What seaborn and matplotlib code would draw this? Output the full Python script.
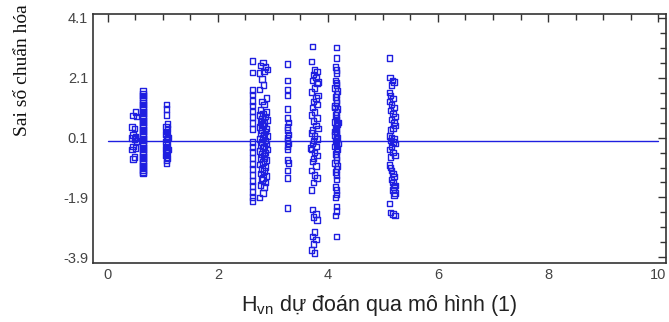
import numpy as np
import pandas as pd
import matplotlib
matplotlib.use("Agg")
import matplotlib.pyplot as plt
import seaborn as sns
from matplotlib.ticker import MultipleLocator, FixedLocator

# ---- data ----
xA = [0.50, 0.46, 0.52, 0.44, 0.48, 0.46, 0.50, 0.44, 0.48, 0.52, 0.46, 0.50, 0.44, 0.48, 0.46, 0.50]
yA = [0.95, 0.83, 0.80, 0.45, 0.40, 0.18, 0.12, 0.08, 0.05, -0.02, -0.20, -0.25, -0.30, -0.55, -0.62, 0.10]

yB = [1.65, 1.58, 1.50, 1.43, 1.35, 1.27, 1.20, 1.12, 1.05, 0.97, 0.90, 0.82, 0.75, 0.67,
      0.60, 0.52, 0.45, 0.37, 0.30, 0.22, 0.15, 0.07, 0.00, -0.08, -0.15, -0.23, -0.30,
      -0.38, -0.45, -0.53, -0.60, -0.68, -0.75, -0.83, -0.90, -0.98, -1.05, -1.10]
xB = [0.64] * len(yB)

yC = [1.20, 1.05, 0.85, 0.55, 0.45, 0.38, 0.30, 0.22, 0.15, 0.05, -0.05, -0.12, -0.20,
      -0.28, -0.35, -0.42, -0.50, -0.58, -0.65, -0.75, 0.10, -0.30]
xC = [1.07, 1.07, 1.07, 1.08, 1.06, 1.08, 1.07, 1.06, 1.08, 1.07, 1.06, 1.08, 1.07,
      1.06, 1.08, 1.07, 1.06, 1.08, 1.07, 1.07, 1.09, 1.09]

yD = [2.65, 2.27, 1.69, 1.53, 1.32, 1.16, 0.96, 0.79, 0.59, 0.39, -0.05, -0.21, -0.38,
      -0.58, -0.78, -0.95, -1.15, -1.35, -1.52, -1.72, -1.89, -2.02]
xD = [2.63] * len(yD)

xE = [2.82, 2.78, 2.86, 2.90, 2.84, 2.76, 2.80, 2.83, 2.76, 2.88, 2.80, 2.84, 2.78, 2.88,
      2.82, 2.76, 2.86, 2.80, 2.90, 2.78, 2.84, 2.82, 2.76, 2.88, 2.80, 2.86, 2.78, 2.84,
      2.90, 2.82, 2.76, 2.86, 2.80, 2.88, 2.78, 2.84, 2.82, 2.90, 2.76, 2.86, 2.80, 2.84,
      2.78, 2.88, 2.82, 2.76, 2.86, 2.80, 2.84, 2.78, 2.88, 2.82, 2.80, 2.86, 2.78, 2.84,
      2.82, 2.76, 2.80, 2.85]
yE = [2.60, 2.50, 2.45, 2.38, 2.30, 2.25, 2.05, 1.85, 1.70, 1.42, 1.30, 1.20, 1.02, 0.95,
      0.90, 0.85, 0.80, 0.72, 0.68, 0.62, 0.58, 0.50, 0.45, 0.40, 0.35, 0.30, 0.25, 0.20,
      0.15, 0.10, 0.05, 0.00, -0.05, -0.10, -0.15, -0.20, -0.25, -0.30, -0.35, -0.40,
      -0.45, -0.52, -0.58, -0.65, -0.72, -0.80, -0.88, -0.95, -1.02, -1.10, -1.18, -1.25,
      -1.32, -1.40, -1.48, -1.55, -1.75, -1.90, 0.55, -0.60]

yF = [2.55, 2.00, 1.70, 1.50, 1.05, 0.75, 0.60, 0.45, 0.35, 0.20, 0.10, 0.00, -0.10,
      -0.20, -0.30, -0.65, -0.75, -1.00, -1.25, -2.25]
xF = [3.27, 3.27, 3.26, 3.27, 3.27, 3.26, 3.28, 3.27, 3.26, 3.28, 3.27, 3.26, 3.28,
      3.27, 3.26, 3.27, 3.28, 3.26, 3.27, 3.27]

yG = [3.13, 2.63, 2.36, 2.30, 2.20, 2.10, 2.00, 1.90, 1.75, 1.62, 1.42, 1.30, 1.20, 1.10,
      0.95, 0.85, 0.75, 0.65, 0.50, 0.35, 0.25, 0.15, 0.05, 0.00, -0.10, -0.20, -0.30,
      -0.40, -0.50, -0.60, -0.70, -0.85, -1.00, -1.15, -1.25, -1.40, -1.65, -2.30, -2.45,
      -2.55, -2.65, -3.05, -3.20, -3.30, -3.45, -3.65, -3.75, 1.50, 0.40, -0.25, 1.95]
xG = [3.72, 3.70, 3.76, 3.80, 3.74, 3.78, 3.72, 3.80, 3.76, 3.70, 3.78, 3.74, 3.80, 3.72,
      3.76, 3.70, 3.80, 3.74, 3.78, 3.72, 3.70, 3.76, 3.80, 3.74, 3.72, 3.78, 3.70, 3.76,
      3.80, 3.74, 3.72, 3.78, 3.70, 3.76, 3.80, 3.74, 3.70, 3.72, 3.78, 3.74, 3.80, 3.76,
      3.72, 3.78, 3.74, 3.70, 3.76, 3.82, 3.82, 3.68, 3.82]

yH = [3.10, 2.76, 2.45, 2.35, 2.25, 2.00, 1.92, 1.85, 1.75, 1.65, 1.55, 1.45, 1.35, 1.25,
      1.15, 1.05, 0.95, 0.85, 0.78, 0.70, 0.62, 0.55, 0.48, 0.40, 0.32, 0.25, 0.18, 0.10,
      0.05, 0.00, -0.05, -0.12, -0.20, -0.28, -0.35, -0.45, -0.55, -0.65, -0.75, -0.85,
      -0.95, -1.05, -1.15, -1.30, -1.55, -1.65, -1.80, -1.90, -2.20, -2.35, -2.50, -3.20,
      0.30, -0.10, 1.10, 0.60]
xH = [4.15, 4.15, 4.14, 4.16, 4.15, 4.14, 4.16, 4.15, 4.13, 4.17, 4.15, 4.14, 4.16, 4.15,
      4.13, 4.17, 4.15, 4.14, 4.16, 4.15, 4.13, 4.17, 4.15, 4.14, 4.16, 4.15, 4.13, 4.17,
      4.15, 4.14, 4.16, 4.15, 4.13, 4.17, 4.15, 4.14, 4.16, 4.15, 4.13, 4.17, 4.15, 4.14,
      4.16, 4.15, 4.14, 4.16, 4.15, 4.14, 4.16, 4.15, 4.14, 4.15, 4.12, 4.18, 4.12, 4.18]

yI = [2.76, 2.10, 2.00, 1.95, 1.85, 1.60, 1.50, 1.40, 1.30, 1.20, 1.10, 1.00, 0.90, 0.80,
      0.70, 0.60, 0.50, 0.40, 0.35, 0.15, 0.10, 0.05, 0.00, -0.05, -0.10, -0.20, -0.30,
      -0.40, -0.50, -0.55, -0.82, -0.90, -1.00, -1.10, -1.20, -1.30, -1.40, -1.50, -1.55,
      -1.65, -1.75, -1.82, -2.10, -2.40, -2.45, -2.50]
xI = [5.12, 5.13, 5.17, 5.20, 5.16, 5.12, 5.14, 5.18, 5.12, 5.16, 5.20, 5.14, 5.18, 5.22,
      5.16, 5.20, 5.22, 5.18, 5.14, 5.12, 5.16, 5.20, 5.14, 5.18, 5.22, 5.16, 5.12, 5.18,
      5.22, 5.14, 5.12, 5.14, 5.16, 5.18, 5.20, 5.16, 5.18, 5.22, 5.20, 5.18, 5.22, 5.20,
      5.12, 5.14, 5.18, 5.22]

zero_line_x = [0, 10]
zero_line_y = [0, 0]

xticks = [0, 2, 4, 6, 8, 10]
yticks = [-3.9, -1.9, 0.1, 2.1, 4.1]
ytick_labels = ["-3.9", "-1.9", "0.1", "2.1", "4.1"]

xs = xA + xB + xC + xD + xE + xF + xG + xH + xI
ys = yA + yB + yC + yD + yE + yF + yG + yH + yI
df = pd.DataFrame({"x": xs, "y": ys})

# ---- plot ----
sns.set_style("white")
plt.rcParams['font.family'] = ['Liberation Sans', 'DejaVu Sans']
plt.rcParams['mathtext.fontset'] = 'custom'
plt.rcParams['mathtext.rm'] = 'Liberation Sans'

blue = "#1f1fe0"
fig = plt.figure(figsize=(6.69, 3.22), dpi=100)
ax = fig.add_axes([0.139, 0.183, 0.857, 0.774])

sns.scatterplot(data=df, x="x", y="y", ax=ax, marker="s", s=15,
                facecolor="none", edgecolor=blue, linewidth=1.0, legend=False)
sns.lineplot(x=zero_line_x, y=zero_line_y, ax=ax, color=blue, linewidth=1.0)

ax.set_xlim(-0.27, 10.15)
ax.set_ylim(-4.09, 4.23)
ax.xaxis.set_major_locator(FixedLocator(xticks))
ax.xaxis.set_minor_locator(MultipleLocator(0.5))
ax.yaxis.set_major_locator(FixedLocator(yticks))
ax.set_yticklabels(ytick_labels)
ax.yaxis.set_minor_locator(FixedLocator([-3.9 + 0.5 * i for i in range(17)]))

ax.tick_params(which="both", direction="in", top=True, right=True,
               color="#333333", labelcolor="#444444", labelsize=10.5)
ax.tick_params(which="major", length=6, width=1)
ax.tick_params(which="minor", length=4, width=1)
for sp in ax.spines.values():
    sp.set_color("#333333")
    sp.set_linewidth(1.2)

ax.set_xlabel(r"H$_\mathregular{vn}$ dự đoán qua mô hình (1)", fontsize=15.5,
              color="#222222", labelpad=8)
ax.set_ylabel("")
fig.text(23 / 669, 1 - 70 / 322, "Sai số chuẩn hóa", rotation=90, ha="center", va="center",
         fontsize=14, family=["Liberation Serif", "DejaVu Serif"], color="#111111")

fig.savefig("out.png", dpi=100)
